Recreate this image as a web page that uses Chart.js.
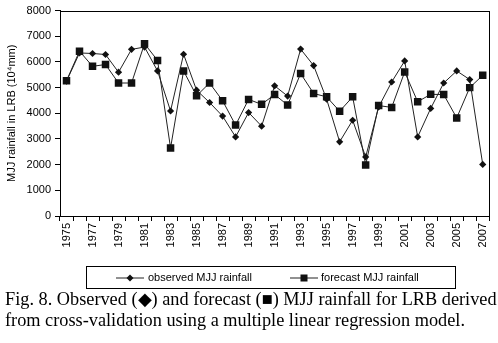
<!DOCTYPE html>
<html>
<head>
<meta charset="utf-8">
<script src="https://cdn.jsdelivr.net/npm/chart.js@4.4.1/dist/chart.umd.min.js"></script>
<style>
  html, body { margin: 0; padding: 0; background: #fff; }
  #wrap { position: relative; width: 498px; height: 343px; overflow: hidden; }
  #c { position: absolute; left: 0; top: 0; }
  #legend { position: absolute; left: 86px; top: 266px; width: 368px; height: 21px; border: 1px solid #000; box-sizing: content-box; font: 11px "Liberation Sans", Arial, sans-serif; color: #000; }
  .li { position: absolute; top: 0; height: 21px; line-height: 21px; white-space: nowrap; }
  .li svg { position: absolute; top: 5px; }
  .li span { position: absolute; top: 0; }
  #caption { position: absolute; left: 5px; top: 289px; width: 495px; font: 18.3px "Liberation Serif", "Times New Roman", serif; line-height: 21px; color: #000; white-space: nowrap; }
</style>
</head>
<body>
<div id="wrap">
  <canvas id="c" width="498" height="343"></canvas>
  <div id="legend">
    <div class="li" style="left:29px;">
      <svg width="30" height="12" viewBox="0 0 30 12"><line x1="0" y1="6" x2="28" y2="6" stroke="#222" stroke-width="1"/><polygon points="14,2.5 17.5,6 14,9.5 10.5,6" fill="#111"/></svg>
      <span style="left:32px;">observed MJJ rainfall</span>
    </div>
    <div class="li" style="left:203px;">
      <svg width="30" height="12" viewBox="0 0 30 12"><line x1="0" y1="6" x2="28" y2="6" stroke="#222" stroke-width="1"/><rect x="10.5" y="2.5" width="7" height="7" fill="#111"/></svg>
      <span style="left:31px;">forecast MJJ rainfall</span>
    </div>
  </div>
  <div id="caption">Fig. 8. Observed (◆) and forecast (■) MJJ rainfall for LRB derived<br>from cross-validation using a multiple linear regression model.</div>
</div>
<script>
const years = ["1975","1976","1977","1978","1979","1980","1981","1982","1983","1984","1985","1986","1987","1988","1989","1990","1991","1992","1993","1994","1995","1996","1997","1998","1999","2000","2001","2002","2003","2004","2005","2006","2007"];
const observed = [5250, 6350, 6330, 6290, 5600, 6490, 6580, 5650, 4090, 6300, 4900, 4420, 3890, 3080, 4030, 3500, 5070, 4670, 6500, 5860, 4550, 2890, 3730, 2300, 4250, 5220, 6040, 3080, 4190, 5180, 5650, 5315, 2010];
const forecast = [5270, 6420, 5830, 5900, 5180, 5180, 6710, 6060, 2650, 5650, 4680, 5180, 4490, 3540, 4540, 4350, 4730, 4320, 5550, 4770, 4640, 4080, 4640, 1990, 4300, 4230, 5610, 4450, 4740, 4730, 3820, 5000, 5480];
const yTitle = "MJJ rainfall in LRB (10\u2074mm)";

const frame = {
  id: 'frame',
  afterDatasetsDraw(chart) {
    const a = chart.chartArea, ctx = chart.ctx;
    ctx.save();
    ctx.strokeStyle = '#000';
    ctx.lineWidth = 1;
    ctx.strokeRect(Math.round(a.left) + 0.5, Math.round(a.top) + 0.5, Math.round(a.right - a.left), Math.round(a.bottom - a.top));
    ctx.restore();
  }
};

const font = { family: '"Liberation Sans", Arial, sans-serif', size: 11 };

new Chart(document.getElementById('c'), {
  type: 'line',
  data: {
    labels: years,
    datasets: [
      { label: 'observed MJJ rainfall', data: observed, borderColor: '#222', backgroundColor: '#111', borderWidth: 1, pointStyle: 'rectRot', pointRadius: 3.6, pointBorderWidth: 0, pointBackgroundColor: '#111', tension: 0 },
      { label: 'forecast MJJ rainfall', data: forecast, borderColor: '#222', backgroundColor: '#111', borderWidth: 1, pointStyle: 'rect', pointRadius: 5.3, pointBorderWidth: 0, pointBackgroundColor: '#111', tension: 0 }
    ]
  },
  options: {
    responsive: false,
    animation: false,
    devicePixelRatio: 1,
    layout: { padding: { left: 0, right: 5, top: 10, bottom: 0 } },
    plugins: { legend: { display: false }, tooltip: { enabled: false } },
    scales: {
      x: {
        type: 'category',
        offset: true,
        afterFit(s) { s.height = 127; },
        grid: { offset: true, drawOnChartArea: false, color: '#000', tickLength: 5, tickColor: '#000' },
        border: { display: true, color: '#000' },
        ticks: {
          autoSkip: false, maxRotation: 90, minRotation: 90, padding: 2,
          color: '#000', font: font,
          callback: function(v, i) { return i % 2 === 0 ? this.getLabelForValue(v) : ''; }
        }
      },
      y: {
        min: 0, max: 8000,
        afterFit(s) { s.width = 60; },
        grid: { drawOnChartArea: false, color: '#000', tickLength: 5, tickColor: '#000' },
        border: { display: true, color: '#000' },
        ticks: { stepSize: 1000, color: '#000', font: font, padding: 4, callback: (v) => String(v) },
        title: { display: true, text: yTitle, color: '#000', font: font, padding: { top: 5, bottom: 0 } }
      }
    }
  },
  plugins: [frame]
});
</script>
</body>
</html>
